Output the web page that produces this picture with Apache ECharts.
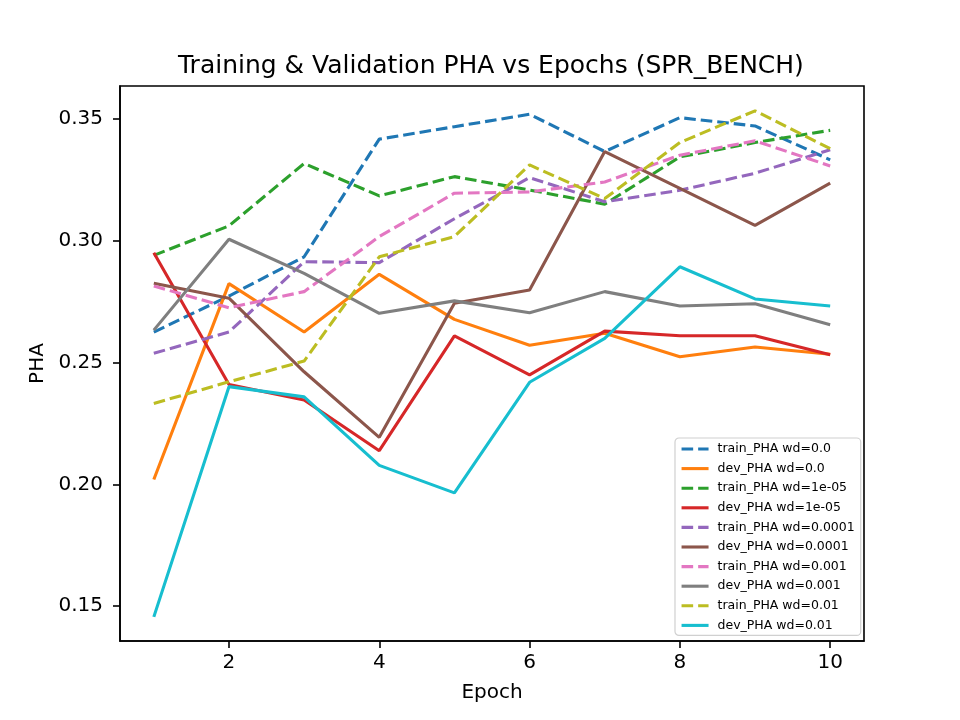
<!DOCTYPE html>
<html>
<head>
<meta charset="utf-8">
<script src="https://cdn.jsdelivr.net/npm/echarts@6/dist/echarts.min.js"></script>
<style>
  html, body { margin: 0; padding: 0; background: #fff; }
  #chartmain { width: 960px; height: 720px; }
</style>
</head>
<body>
<div id="chartmain"></div>
<script>
var epochs = [1, 2, 3, 4, 5, 6, 7, 8, 9, 10];
var xTicks = [2, 4, 6, 8, 10];
var yTicks = [0.15, 0.20, 0.25, 0.30, 0.35];

var trainWd0     = [0.2625, 0.2773, 0.2934, 0.3417, 0.3468, 0.3519, 0.3366, 0.3505, 0.3471, 0.3332];
var devWd0       = [0.2020, 0.2824, 0.2625, 0.2862, 0.2677, 0.2571, 0.2620, 0.2524, 0.2564, 0.2534];
var trainWd1e5   = [0.2940, 0.3061, 0.3317, 0.3184, 0.3263, 0.3208, 0.3150, 0.3344, 0.3403, 0.3453];
var devWd1e5     = [0.2951, 0.2410, 0.2346, 0.2138, 0.2609, 0.2449, 0.2629, 0.2610, 0.2610, 0.2532];
var trainWd1e4   = [0.2538, 0.2625, 0.2914, 0.2910, 0.3090, 0.3259, 0.3160, 0.3207, 0.3277, 0.3373];
var devWd1e4     = [0.2825, 0.2764, 0.2462, 0.2193, 0.2743, 0.2798, 0.3366, 0.3215, 0.3063, 0.3236];
var trainWd1e3   = [0.2814, 0.2725, 0.2791, 0.3017, 0.3195, 0.3200, 0.3241, 0.3351, 0.3410, 0.3307];
var devWd1e3     = [0.2633, 0.3006, 0.2866, 0.2702, 0.2753, 0.2704, 0.2791, 0.2732, 0.2741, 0.2655];
var trainWd1e2   = [0.2332, 0.2421, 0.2506, 0.2934, 0.3017, 0.3311, 0.3173, 0.3403, 0.3533, 0.3378];
var devWd1e2     = [0.1456, 0.2401, 0.2359, 0.2078, 0.1965, 0.2419, 0.2599, 0.2893, 0.2761, 0.2732];

var seriesDefs = [
    { name: 'train_PHA wd=0.0',    data: trainWd0,   color: '#1f77b4', dashed: true },
    { name: 'dev_PHA wd=0.0',      data: devWd0,     color: '#ff7f0e', dashed: false },
    { name: 'train_PHA wd=1e-05',  data: trainWd1e5, color: '#2ca02c', dashed: true },
    { name: 'dev_PHA wd=1e-05',    data: devWd1e5,   color: '#d62728', dashed: false },
    { name: 'train_PHA wd=0.0001', data: trainWd1e4, color: '#9467bd', dashed: true },
    { name: 'dev_PHA wd=0.0001',   data: devWd1e4,   color: '#8c564b', dashed: false },
    { name: 'train_PHA wd=0.001',  data: trainWd1e3, color: '#e377c2', dashed: true },
    { name: 'dev_PHA wd=0.001',    data: devWd1e3,   color: '#7f7f7f', dashed: false },
    { name: 'train_PHA wd=0.01',   data: trainWd1e2, color: '#bcbd22', dashed: true },
    { name: 'dev_PHA wd=0.01',     data: devWd1e2,   color: '#17becf', dashed: false }
];

var font = 'DejaVu Sans';

var chart = echarts.init(document.getElementById('chartmain'), null, {
    renderer: 'canvas', width: 960, height: 720
});

var series = seriesDefs.map(function (s) {
    return {
        name: s.name,
        type: 'line',
        symbol: 'none',
        data: epochs.map(function (e, i) { return [e, s.data[i]]; }),
        lineStyle: { color: s.color, width: 3.1, type: s.dashed ? [11.6, 5] : 'solid', cap: 'butt' },
        itemStyle: { color: s.color }
    };
});

chart.setOption({
    animation: false,
    backgroundColor: '#fff',
    title: {
        text: 'Training & Validation PHA vs Epochs (SPR_BENCH)',
        left: 178,
        top: 54,
        padding: 0,
        textStyle: { fontFamily: font, fontSize: 25, fontWeight: 'normal', color: '#000' }
    },
    grid: {
        left: 120, right: 96, top: 86, bottom: 79,
        show: true, borderColor: '#000', borderWidth: 1.6, backgroundColor: 'transparent'
    },
    legend: {
        orient: 'vertical',
        left: 675, top: 438,
        padding: [4, 6, 3, 5],
        itemWidth: 27, itemHeight: 14, itemGap: 5.6,
        borderColor: '#d0d0d0', borderWidth: 1.2, borderRadius: 4,
        backgroundColor: 'rgba(255,255,255,0.8)',
        itemStyle: { opacity: 0 },
        lineStyle: { width: 3.1 },
        textStyle: { fontFamily: font, fontSize: 12.5, lineHeight: 14, color: '#000', padding: [0, 0, 0, 4] },
        data: seriesDefs.map(function (s) { return s.name; })
    },
    xAxis: {
        type: 'value',
        min: 0.55, max: 10.45,
        name: 'Epoch', nameLocation: 'middle', nameGap: 42,
        nameTextStyle: { fontFamily: font, fontSize: 20, color: '#000' },
        splitLine: { show: false },
        axisLine: { show: true, lineStyle: { color: '#000', width: 1.6 } },
        axisTick: { show: true, inside: false, length: 7, customValues: xTicks, lineStyle: { color: '#000', width: 1.6 } },
        axisLabel: { customValues: xTicks, margin: 12, fontFamily: font, fontSize: 20, color: '#000' }
    },
    yAxis: {
        type: 'value',
        min: 0.1357, max: 0.3635,
        name: 'PHA', nameLocation: 'middle', nameGap: 68, nameRotate: 90,
        nameTextStyle: { fontFamily: font, fontSize: 20, color: '#000' },
        splitLine: { show: false },
        axisLine: { show: true, lineStyle: { color: '#000', width: 1.6 } },
        axisTick: { show: true, inside: false, length: 7, customValues: yTicks, lineStyle: { color: '#000', width: 1.6 } },
        axisLabel: {
            customValues: yTicks, margin: 17, fontFamily: font, fontSize: 20, color: '#000',
            formatter: function (v) { return v.toFixed(2); }
        }
    },
    series: series
});
</script>
</body>
</html>
